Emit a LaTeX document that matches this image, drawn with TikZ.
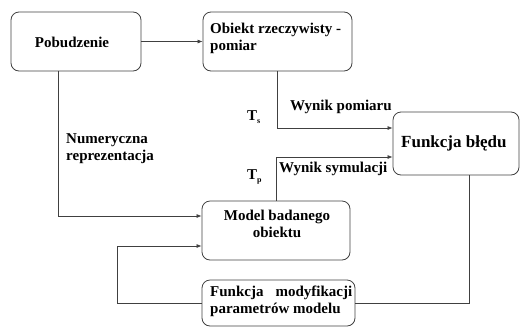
\documentclass[tikz,border=0pt]{standalone}
\usepackage{fontspec}
\setmainfont{Liberation Serif}
\usetikzlibrary{arrows.meta}
\begin{document}
\begin{tikzpicture}[x=1pt,y=-1pt,
 box/.style={draw=black!75, line width=0.8pt, rounded corners=8pt, inner sep=0pt},
 conn/.style={draw=black!75, line width=0.7pt},
 arr/.style={conn, -{Latex[length=5pt,width=4pt]}},
 txt/.style={font=\fontsize{15}{17}\selectfont\bfseries, inner sep=0pt},
 bigtxt/.style={font=\fontsize{17}{19}\selectfont\bfseries, inner sep=0pt}]
\useasboundingbox (0,0) rectangle (521,327);
% boxes
\node[box, minimum width=130pt, minimum height=59pt] (pob) at (76,41.5) {};
\node[box, minimum width=149pt, minimum height=59pt] (obj) at (277.5,41.5) {};
\node[box, minimum width=126pt, minimum height=63pt] (fb) at (456,143.5) {};
\node[box, minimum width=148pt, minimum height=59pt] (mod) at (276,230.5) {};
\node[box, minimum width=153pt, minimum height=46pt] (fm) at (278.5,303) {};
% box texts
\node[txt] (tpob) at (72,42) {Pobudzenie};
\node[txt, anchor=west, align=left] (tobj) at (210,38) {Obiekt rzeczywisty -\\pomiar};
\node[bigtxt, anchor=west] (tfb) at (401,143) {Funkcja błędu};
\node[txt, align=center] (tmod) at (277,224) {Model badanego\\obiektu};
\node[txt, anchor=west, text width=142pt, align=justify] (tfm) at (210,301) {Funkcja modyfikacji parametrów modelu};
% connector labels
\node[txt, anchor=west, align=left] (tnum) at (66,149) {Numeryczna\\reprezentacja};
\node[txt, anchor=west] (twp) at (290,107) {Wynik pomiaru};
\node[txt, anchor=west] (tws) at (279,169) {Wynik symulacji};
\node[txt, anchor=west] (tts) at (247,117) {T\raisebox{-2.5pt}{\fontsize{8}{9}\selectfont s}};
\node[txt, anchor=west] (ttp) at (247,177) {T\raisebox{-2.5pt}{\fontsize{8}{9}\selectfont p}};
% connectors
\draw[arr] (pob.east) -- (obj.west);
\draw[arr] (obj.south) |- ([yshift=15.5pt]fb.west);
\draw[arr] (mod.north) |- ([yshift=-13.5pt]fb.west);
\draw[arr] ([xshift=-18pt]pob.south) |- ([yshift=14.5pt]mod.west);
\coordinate (loopc) at (117,303);
\draw[arr] (fm.west) -- (loopc) |- ([yshift=-15.5pt]mod.west);
\draw[conn] ([xshift=13pt]fb.south) |- (fm.east);
\end{tikzpicture}
\end{document}
